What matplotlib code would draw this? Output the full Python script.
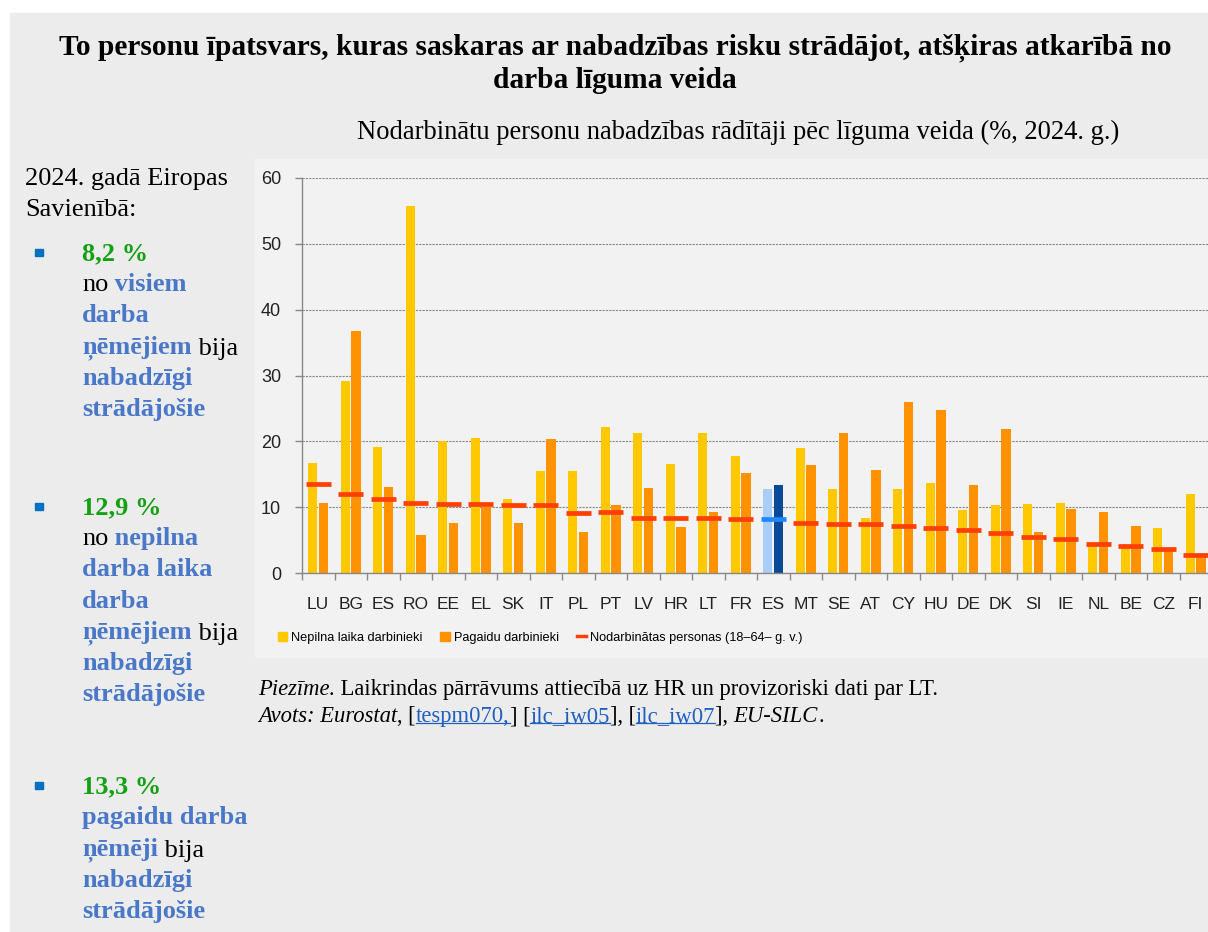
import matplotlib
matplotlib.use('Agg')
import matplotlib.pyplot as plt
from matplotlib.patches import Rectangle, Patch
from matplotlib.lines import Line2D
from matplotlib.transforms import IdentityTransform
import numpy as np

W, H = 1208, 932

countries = ['LU', 'BG', 'ES', 'RO', 'EE', 'EL', 'SK', 'IT', 'PL', 'PT', 'LV', 'HR', 'LT', 'FR',
             'ES', 'MT', 'SE', 'AT', 'CY', 'HU', 'DE', 'DK', 'SI', 'IE', 'NL', 'BE', 'CZ', 'FI']
part_time = [16.7, 29.2, 19.2, 55.7, 20.1, 20.5, 11.2, 15.5, 15.5, 22.2, 21.3, 16.6, 21.3, 17.7,
             12.8, 19.0, 12.8, 8.4, 12.8, 13.7, 9.5, 10.3, 10.5, 10.6, 4.3, 3.8, 6.8, 12.0]
temporary = [10.6, 36.8, 13.1, 5.7, 7.6, 10.1, 7.6, 20.4, 6.3, 10.3, 12.9, 7.0, 9.3, 15.2,
             13.3, 16.4, 21.3, 15.6, 26.0, 24.7, 13.3, 21.9, 6.3, 9.7, 9.3, 7.2, 3.6, 2.5]
employed = [13.5, 12.0, 11.2, 10.7, 10.5, 10.5, 10.3, 10.3, 9.1, 9.2, 8.4, 8.4, 8.4, 8.2,
            8.2, 7.6, 7.4, 7.4, 7.2, 6.9, 6.5, 6.1, 5.4, 5.2, 4.4, 4.1, 3.6, 2.7]
highlight = 14  # EU aggregate, drawn in blue

legend_labels = ['Nepilna laika darbinieki', 'Pagaidu darbinieki', 'Nodarbinātas personas (18–64– g. v.)']

title_lines = ['To personu īpatsvars, kuras saskaras ar nabadzības risku strādājot, atšķiras atkarībā no',
               'darba līguma veida']
subtitle = 'Nodarbinātu personu nabadzības rādītāji pēc līguma veida (%, 2024. g.)'
intro = ['2024. gadā Eiropas', 'Savienībā:']

# each line: list of (text, style); g = green bold, b = blue bold, k = black regular
blocks = [
    [[('8,2 %', 'g')],
     [('no', 'k'), (' visiem', 'b')],
     [('darba', 'b')],
     [('ņēmējiem', 'b'), (' bija', 'k')],
     [('nabadzīgi', 'b')],
     [('strādājošie', 'b')]],
    [[('12,9 %', 'g')],
     [('no', 'k'), (' nepilna', 'b')],
     [('darba laika', 'b')],
     [('darba', 'b')],
     [('ņēmējiem', 'b'), (' bija', 'k')],
     [('nabadzīgi', 'b')],
     [('strādājošie', 'b')]],
    [[('13,3 %', 'g')],
     [('pagaidu darba', 'b')],
     [('ņēmēji', 'b'), (' bija', 'k')],
     [('nabadzīgi', 'b')],
     [('strādājošie', 'b')]],
]
block_top = [253, 507, 786]

note1 = [('Piezīme.', 'i'), (' Laikrindas pārrāvums attiecībā uz HR un provizoriski dati par LT.', 'n')]
note2 = [('Avots: Eurostat', 'i'), (', [', 'n'), ('tespm070,', 'l'), ('] [', 'n'), ('ilc_iw05', 'l'),
         ('], [', 'n'), ('ilc_iw07', 'l'), ('], ', 'n'), ('EU-SILC', 'i'), ('.', 'n')]

YELLOW = '#ffc800'
ORANGE = '#ff9200'
RED = '#ff4000'
GREEN = '#13a013'
BLUE_TXT = '#4a78c8'
SERIF = 'Liberation Serif'
SANS = 'Liberation Sans'

fig = plt.figure(figsize=(W / 100, H / 100), dpi=100, facecolor='white')

# background layer in pixel coordinates
bg = fig.add_axes([0, 0, 1, 1])
bg.set_xlim(0, W)
bg.set_ylim(H, 0)
bg.axis('off')
bg.add_patch(Rectangle((10, 13), W - 10, H - 13, color='#ececec', zorder=0))
bg.add_patch(Rectangle((255, 159), W - 255, 498, color='#f2f2f2', zorder=1))

bg.text(615, 48, title_lines[0], ha='center', va='center', fontsize=21.2, fontweight='bold', family=SERIF)
bg.text(615, 80, title_lines[1], ha='center', va='center', fontsize=21.2, fontweight='bold', family=SERIF)
bg.text(738, 132, subtitle, ha='center', va='center', fontsize=19.1, family=SERIF)

fs_left = 19
bg.text(25, 185, intro[0], fontsize=fs_left, family=SERIF, va='baseline')
bg.text(25, 216, intro[1], fontsize=fs_left, family=SERIF, va='baseline')


def style_kw(st):
    if st == 'g':
        return dict(color=GREEN, fontweight='bold')
    if st == 'b':
        return dict(color=BLUE_TXT, fontweight='bold')
    if st == 'i':
        return dict(color='black', style='italic')
    if st == 'l':
        return dict(color='#1f5fbf')
    return dict(color='black')


def rich_line(x, y, parts, size):
    t = None
    out = []
    for s, st in parts:
        if t is None:
            t = bg.text(x, y, s, va='baseline', fontsize=size, family=SERIF, **style_kw(st))
        else:
            t = bg.annotate(s, xy=(1, 0), xycoords=t, va='bottom', fontsize=size,
                            family=SERIF, **style_kw(st))
        out.append((t, st))
    return out


for blk, top in zip(blocks, block_top):
    bg.add_patch(Rectangle((35, top - 4), 8, 7, color='#0070c0', zorder=2))
    for i, line in enumerate(blk):
        rich_line(82, top + 7 + i * 31.2, line, fs_left)

rich_line(258, 695, note1, 16.3)
links = rich_line(258, 722, note2, 16.3)

# chart
ax = fig.add_axes([302 / W, 1 - 573 / H, 910 / W, (573 - 178) / H])
ax.set_facecolor('none')
x = np.arange(len(countries))
c_pt = [YELLOW] * len(x)
c_tmp = [ORANGE] * len(x)
c_emp = [RED] * len(x)
c_pt[highlight] = '#a8cdf7'
c_tmp[highlight] = '#0b4a96'
c_emp[highlight] = '#1e88ff'

ax.bar(x - 0.17, part_time, width=0.28, color=c_pt, zorder=2)
ax.bar(x + 0.16, temporary, width=0.28, color=c_tmp, zorder=2)
ax.hlines(employed, x - 0.38, x + 0.38, colors=c_emp, linewidth=3.4, zorder=3)

ax.set_xlim(-0.5, len(x) - 0.5)
ax.set_ylim(0, 60)
ax.set_yticks(range(0, 61, 10))
ax.set_xticks(x)
ax.set_xticklabels(countries)
ax.set_xticks(np.arange(-0.5, len(x), 1), minor=True)
ax.tick_params(axis='x', which='major', length=0, pad=17, labelsize=12.5, labelcolor='#222222')
ax.tick_params(axis='x', which='minor', length=5, color='#888888', width=1)
ax.tick_params(axis='y', length=5, color='#888888', width=1, pad=10, labelsize=13, labelcolor='#222222')
for lab in ax.get_xticklabels() + ax.get_yticklabels():
    lab.set_family(SANS)
ax.grid(axis='y', color='#888888', linestyle=(0, (2, 1)), linewidth=0.8, zorder=0)
for sp in ['top', 'right']:
    ax.spines[sp].set_visible(False)
ax.spines['left'].set_color('#888888')
ax.spines['bottom'].set_color('#888888')
ax.spines['left'].set_linewidth(1)
ax.spines['bottom'].set_linewidth(1)

handles = [Patch(color=YELLOW), Patch(color=ORANGE), Line2D([], [], color=RED, lw=2.5)]
leg = fig.legend(handles, legend_labels, loc='center', bbox_to_anchor=(540 / W, 1 - 638 / H),
                 ncol=3, frameon=False, handlelength=0.75, handleheight=0.75, handletextpad=0.3,
                 columnspacing=1.4, prop={'family': SANS, 'size': 9.2})

# underline the source links
fig.canvas.draw()
for t, st in links:
    if st == 'l':
        bb = t.get_window_extent()
        fig.add_artist(Line2D([bb.x0, bb.x1], [bb.y0 + 4, bb.y0 + 4], color='#1f5fbf',
                              lw=0.9, transform=IdentityTransform()))

fig.savefig('out.png', dpi=100, facecolor=fig.get_facecolor())
